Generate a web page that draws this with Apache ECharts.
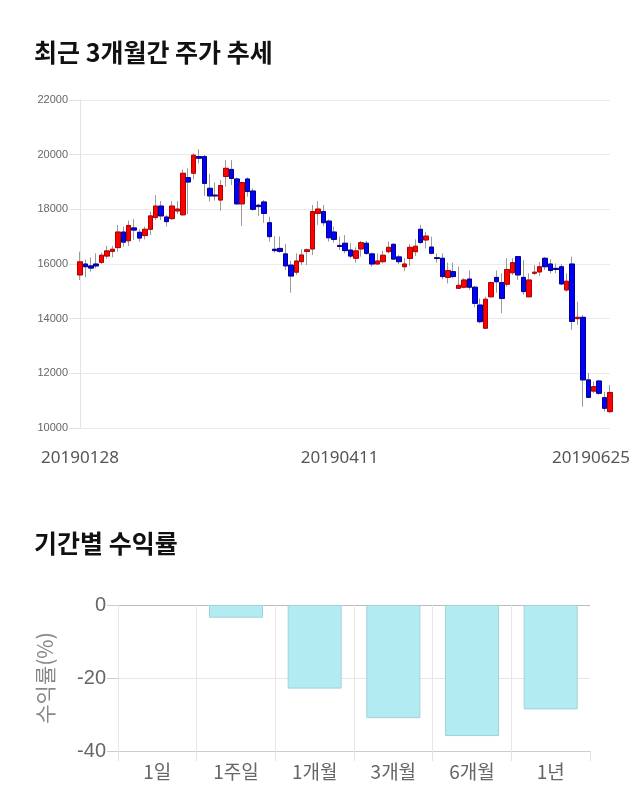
<!DOCTYPE html>
<html>
<head>
<meta charset="utf-8">
<script src="https://cdn.jsdelivr.net/npm/echarts@6/dist/echarts.min.js"></script>
<style>
html,body{margin:0;padding:0;background:#fff;}
#chart{width:640px;height:810px;}
</style>
</head>
<body>
<div id="chart"></div>
<script>
const dates = [
'20190128','20190129','20190130','20190131',
'20190207','20190208','20190211','20190212','20190213','20190214','20190215',
'20190218','20190219','20190220','20190221','20190222','20190225','20190226','20190227','20190228',
'20190304','20190305','20190306','20190307','20190308','20190311','20190312','20190313','20190314','20190315',
'20190318','20190319','20190320','20190321','20190322','20190325','20190326','20190327','20190328','20190329',
'20190401','20190402','20190403','20190404','20190405','20190408','20190409','20190410','20190411','20190412',
'20190415','20190416','20190417','20190418','20190419','20190422','20190423','20190424','20190425','20190426',
'20190429','20190430','20190502','20190503','20190507','20190508','20190509','20190510',
'20190513','20190514','20190515','20190516','20190517','20190520','20190521','20190522','20190523','20190524',
'20190527','20190528','20190529','20190530','20190531','20190603','20190604','20190605','20190607',
'20190610','20190611','20190612','20190613','20190614','20190617','20190618','20190619','20190620','20190621',
'20190624','20190625'
];
const shownDates = ['20190128','20190411','20190625'];

const openP = [
15600,16000,15930,16000,16060,16290,16460,16600,17170,16850,
17320,17160,17040,17270,17700,18120,17720,17660,17940,17800,
19160,19320,19930,19930,18770,18520,18340,19200,19460,19110,
18200,19110,18670,18150,18270,17510,16540,16570,16370,15960,
15700,16085,16460,16550,17850,17920,17570,17170,16680,16760,
16510,16210,16550,16760,16370,16000,16085,16450,16720,16260,
15900,16200,16450,17270,16880,16620,16230,16210,15510,15720,
15110,15150,15450,15150,14500,13650,14800,15510,15320,15260,
15680,16270,15510,14800,15660,15710,16210,16000,15840,15900,
15050,16000,14000,14050,11760,11350,11720,11110,10600
];
const closeP = [
16080,15900,15850,15930,16320,16480,16540,17170,16800,17410,
17240,16950,17270,17760,18120,17760,17550,18120,18010,19320,
19000,19980,19870,18950,18490,18490,18870,19500,19130,18200,
18980,18650,18000,18100,17850,17000,16490,16460,15930,15560,
16110,16330,16520,17920,18010,17510,16960,16900,16640,16490,
16290,16480,16780,16390,16000,16110,16320,16610,16180,16085,
16000,16610,16650,16790,17020,16390,16200,15540,15760,15540,
15220,15415,15150,14560,13890,14710,15320,15350,14740,15800,
16050,15600,14990,15415,15700,15900,15900,15760,15800,15270,
15370,13900,14050,11760,11120,11510,11270,10720,11300
];
const lowP = [
15415,15510,15720,15840,16000,16195,16245,16450,16630,16660,
16880,16820,16900,17060,17610,17610,17370,17610,17830,17760,
17830,19100,19680,18490,18280,18320,17950,18830,18890,18160,
17390,18460,17950,17760,17510,16820,16415,16415,15780,14950,
15600,15960,15960,16330,17430,17390,16820,16780,16510,16390,
16210,16050,16270,16330,15900,15990,16020,16390,16150,16000,
15740,15930,16290,16730,16570,16350,16050,15440,15290,15480,
15085,15110,15050,14415,13830,13640,14800,14950,14200,15170,
15600,15415,14870,14780,15600,15560,15780,15660,15660,15230,
14990,13590,13770,10780,11090,11270,11210,10600,10540
];
const highP = [
16450,16170,16240,16390,16415,16660,16660,17430,17370,17590,
17650,17270,17370,17920,18520,18300,17790,18300,18300,19460,
19500,20050,20200,19990,19300,18980,19070,19800,19800,19170,
19010,19170,18770,18200,18340,17730,17020,17000,16730,16120,
16390,16540,16570,18160,18300,18160,17630,17370,17000,17060,
16760,16610,16850,16850,16415,16390,16490,16820,16760,16330,
16210,16730,16900,17430,17180,17000,16390,16390,16050,16050,
15900,15480,15760,15200,14740,14800,15350,15760,15660,16210,
16210,16290,16150,15660,15960,16080,16260,16170,16020,16000,
15660,16270,14620,14130,12020,11700,11760,11330,11570
];
const priceTicks = [10000, 12000, 14000, 16000, 18000, 20000, 22000];

const periods = ['1일','1주일','1개월','3개월','6개월','1년'];
const returns = [0, -3.5, -22.9, -31.0, -35.9, -28.6];
const returnTicks = [-40, -20, 0];

const wickData = dates.map((d, i) => [openP[i], closeP[i], lowP[i], highP[i]]);
const bodyData = dates.map((d, i) => [openP[i], closeP[i], Math.min(openP[i], closeP[i]), Math.max(openP[i], closeP[i])]);
const barData = returns.map(v => v === 0 ? {value: v, itemStyle: {borderWidth: 0}} : v);

const chart = echarts.init(document.getElementById('chart'), null, {renderer: 'canvas'});
const lastDate = dates[dates.length - 1];

chart.setOption({
  animation: false,
  backgroundColor: '#ffffff',
  textStyle: {fontFamily: '"Noto Sans CJK KR", "Noto Sans", sans-serif'},
  title: [
    {text: '최근 3개월간 주가 추세', left: 29, top: 35,
     textStyle: {fontSize: 25, fontWeight: 'bold', color: '#111', fontFamily: '"Noto Sans CJK KR", sans-serif'}},
    {text: '기간별 수익률', left: 29, top: 526,
     textStyle: {fontSize: 25, fontWeight: 'bold', color: '#111', fontFamily: '"Noto Sans CJK KR", sans-serif'}}
  ],
  grid: [
    {left: 80, right: 30, top: 100, height: 328},
    {left: 118, right: 50, top: 605, height: 146}
  ],
  xAxis: [
    {
      type: 'category', gridIndex: 0, data: dates, boundaryGap: false,
      axisLine: {show: false}, axisTick: {show: false}, splitLine: {show: false},
      axisLabel: {
        interval: (idx, val) => shownDates.indexOf(val) >= 0,
        formatter: (val) => val === lastDate ? '{r|' + val + '}' : '{n|' + val + '}',
        margin: 22, color: '#555', fontSize: 17,
        rich: {
          n: {fontSize: 17, color: '#555', fontFamily: '"Noto Sans", sans-serif'},
          r: {fontSize: 17, color: '#555', fontFamily: '"Noto Sans", sans-serif', padding: [0, 38, 0, 0]}
        }
      }
    },
    {
      type: 'category', gridIndex: 1, data: periods, boundaryGap: true,
      axisLine: {show: true, onZero: false, lineStyle: {color: '#cccccc'}},
      axisTick: {show: true, length: 10, lineStyle: {color: '#e3e3e3'}},
      splitLine: {show: true, showMaxLine: false, lineStyle: {color: '#e6e6e6'}},
      axisLabel: {color: '#666', fontSize: 19, margin: 11}
    }
  ],
  yAxis: [
    {
      type: 'value', gridIndex: 0, min: priceTicks[0], max: priceTicks[priceTicks.length - 1], interval: 2000,
      axisLine: {show: true, lineStyle: {color: '#e3e3e3'}},
      axisTick: {show: true, length: 11, lineStyle: {color: '#e3e3e3'}},
      splitLine: {show: true, lineStyle: {color: '#eaeaea'}},
      axisLabel: {color: '#666', fontSize: 11, margin: 12, formatter: (v) => String(v),
                  fontFamily: '"Liberation Sans", Arial, sans-serif'}
    },
    {
      type: 'value', gridIndex: 1, min: returnTicks[0], max: returnTicks[returnTicks.length - 1], interval: 20,
      name: '수익률(%)', nameLocation: 'middle', nameGap: 62, nameRotate: 90,
      nameTextStyle: {color: '#888', fontSize: 21, fontFamily: '"Noto Sans CJK KR", sans-serif'},
      axisLine: {show: false},
      axisTick: {show: true, length: 11, lineStyle: {color: '#cccccc'}},
      splitLine: {show: true, lineStyle: {color: ['#cccccc', '#e6e6e6', '#bbbbbb']}},
      axisLabel: {color: '#666', fontSize: 20, margin: 12, fontFamily: '"Liberation Sans", Arial, sans-serif'}
    }
  ],
  series: [
    {
      type: 'candlestick', xAxisIndex: 0, yAxisIndex: 0, data: wickData, barWidth: 5,
      itemStyle: {color: 'rgba(0,0,0,0)', color0: 'rgba(0,0,0,0)', borderColor: '#9a9a9a', borderColor0: '#9a9a9a', borderWidth: 1}
    },
    {
      type: 'candlestick', xAxisIndex: 0, yAxisIndex: 0, data: bodyData, barWidth: 5,
      itemStyle: {color: '#ff0000', color0: '#0000ff', borderColor: '#b00000', borderColor0: '#00008b', borderWidth: 1}
    },
    {
      type: 'bar', xAxisIndex: 1, yAxisIndex: 1, data: barData, barWidth: 54,
      itemStyle: {color: '#b2ebf2', borderColor: '#9ed3dc', borderWidth: 1}
    }
  ]
});
</script>
</body>
</html>
